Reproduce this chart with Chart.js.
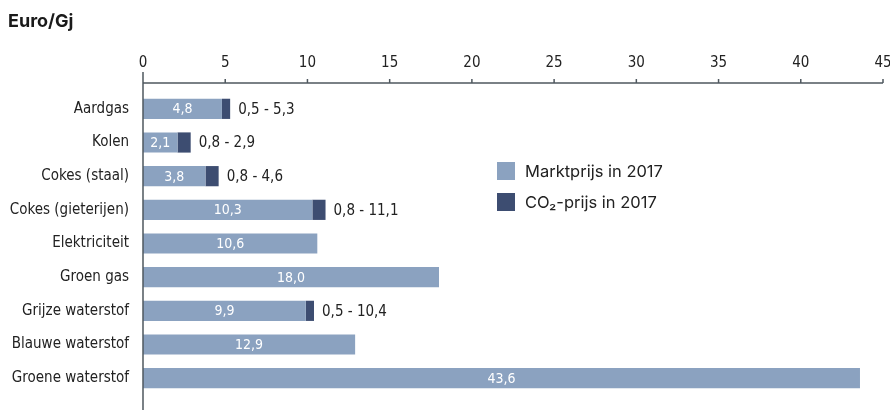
<!DOCTYPE html>
<html>
<head>
<meta charset="utf-8">
<script src="https://cdn.jsdelivr.net/npm/chart.js@4"></script>
<style>
  html, body { margin: 0; padding: 0; background: #fff; overflow: hidden; }
  #wrap { width: 890px; height: 410px; position: relative; }
  canvas { display: block; }
</style>
</head>
<body>
<div id="wrap"><canvas id="chart"></canvas></div>
<script>
const categories = [
  "Aardgas", "Kolen", "Cokes (staal)", "Cokes (gieterijen)", "Elektriciteit",
  "Groen gas", "Grijze waterstof", "Blauwe waterstof", "Groene waterstof"
];
const marketPrice = [4.8, 2.1, 3.8, 10.3, 10.6, 18.0, 9.9, 12.9, 43.6];
const co2Price = [0.5, 0.8, 0.8, 0.8, 0, 0, 0.5, 0, 0];
const seriesNames = ["Marktprijs in 2017", "CO\u2082-prijs in 2017"];
const unitTitle = "Euro/Gj";
const xMax = 45;
const xStep = 5;

const LIGHT = "#8ba2c0";
const DARK = "#3d4d71";
const AXIS = "#4f585f";
const TEXT = "#222222";
const NARROW = "'DejaVu Sans Condensed', 'Liberation Sans Narrow', Roboto, sans-serif";
const PLAIN = "Inter, Roboto, 'Noto Sans', sans-serif";

function fmt(v) {
  return v.toFixed(1).replace(".", ",");
}

// axis lines, bar labels, legend and unit title
const extras = {
  id: "extras",
  afterDatasetsDraw(chart) {
    const ctx = chart.ctx;
    const x = chart.scales.x;
    const area = chart.chartArea;
    const axisY = area.top - 9;
    const x0 = x.getPixelForValue(0);

    ctx.save();
    ctx.strokeStyle = AXIS;
    ctx.lineWidth = 1.5;
    ctx.beginPath();
    ctx.moveTo(x0, axisY);
    ctx.lineTo(x.getPixelForValue(xMax), axisY);
    x.ticks.forEach((t) => {
      const px = x.getPixelForValue(t.value);
      ctx.moveTo(px, axisY - 4);
      ctx.lineTo(px, axisY);
    });
    ctx.moveTo(x0, axisY - 11);
    ctx.lineTo(x0, chart.height);
    ctx.stroke();

    const m0 = chart.getDatasetMeta(0);
    const m1 = chart.getDatasetMeta(1);
    ctx.textBaseline = "middle";
    m0.data.forEach((bar, i) => {
      const p = bar.getProps(["x", "y", "base"], true);
      ctx.font = "14px " + NARROW;
      ctx.fillStyle = "#ffffff";
      ctx.textAlign = "center";
      ctx.fillText(fmt(marketPrice[i]), (p.base + p.x) / 2, p.y + 1);
      if (co2Price[i] > 0) {
        const end = m1.data[i].getProps(["x"], true).x;
        ctx.font = "15px " + NARROW;
        ctx.fillStyle = TEXT;
        ctx.textAlign = "left";
        ctx.fillText(
          fmt(co2Price[i]) + " - " + fmt(marketPrice[i] + co2Price[i]),
          end + 8, p.y + 1
        );
      }
    });

    // legend
    ctx.font = "16.5px " + PLAIN;
    ctx.textAlign = "left";
    [LIGHT, DARK].forEach((c, i) => {
      const top = 162 + i * 31;
      ctx.fillStyle = c;
      ctx.fillRect(497, top, 18, 18);
      ctx.fillStyle = TEXT;
      ctx.fillText(seriesNames[i], 525, top + 10);
    });

    // unit title
    ctx.font = "bold 18px " + PLAIN;
    ctx.fillStyle = "#1a1a1a";
    ctx.fillText(unitTitle, 8, 22);
    ctx.restore();
  },
};

new Chart(document.getElementById("chart"), {
  type: "bar",
  data: {
    labels: categories,
    datasets: [
      { label: seriesNames[0], data: marketPrice, backgroundColor: LIGHT },
      { label: seriesNames[1], data: co2Price, backgroundColor: DARK },
    ],
  },
  options: {
    indexAxis: "y",
    responsive: true,
    maintainAspectRatio: false,
    animation: false,
    categoryPercentage: 0.6,
    barPercentage: 1,
    layout: { padding: { left: 0, right: 7, top: 0, bottom: 0 } },
    plugins: {
      legend: { display: false },
      tooltip: { enabled: false },
    },
    scales: {
      x: {
        position: "top",
        stacked: true,
        min: 0,
        max: xMax,
        ticks: {
          stepSize: xStep,
          color: TEXT,
          font: { family: NARROW, size: 15 },
          padding: 12,
          maxRotation: 0,
          callback: (v) => v,
        },
        grid: { display: false },
        border: { display: false },
        afterFit: (s) => {
          s.height = 92;
          s.paddingLeft = 0;
          s.paddingRight = 0;
        },
      },
      y: {
        stacked: true,
        ticks: {
          color: TEXT,
          font: { family: NARROW, size: 15 },
          padding: 6,
        },
        grid: { display: false },
        border: { display: false },
        afterFit: (s) => { s.width = 143; },
      },
    },
  },
  plugins: [extras],
});
</script>
</body>
</html>
